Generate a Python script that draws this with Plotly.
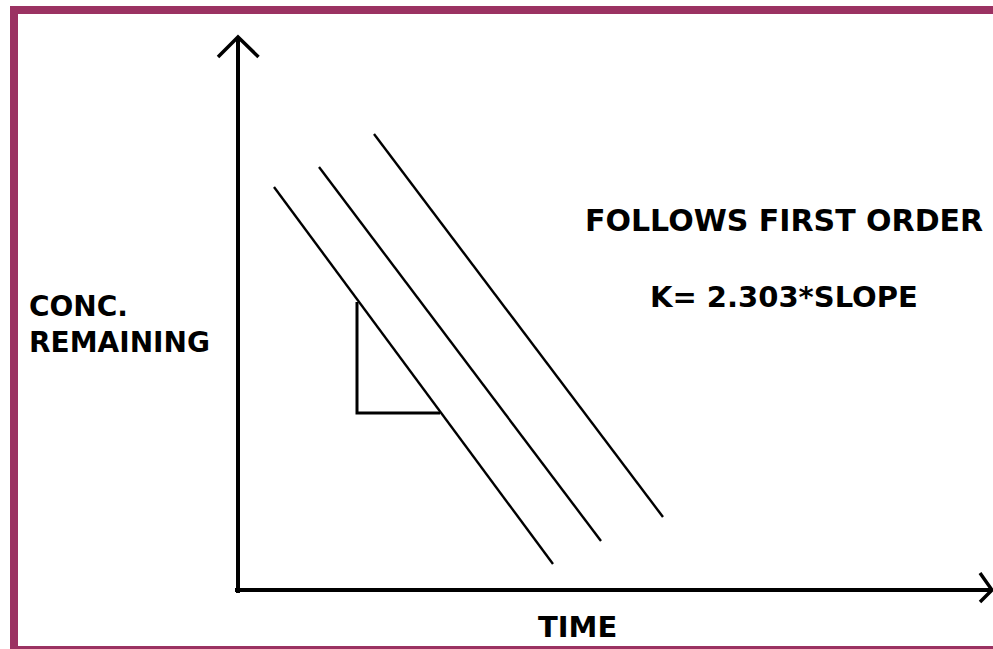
import plotly.graph_objects as go

# ---- data (time units, log-conc units) ----
line1_t = [0.72, 6.30]
line1_c = [8.06, 0.52]
line2_t = [1.62, 7.26]
line2_c = [8.46, 0.98]
line3_t = [2.72, 8.50]
line3_c = [9.12, 1.46]

tri_t = [2.38, 2.38, 4.04]
tri_c = [5.76, 3.54, 3.54]

yaxis_t = [0.0, 0.0]
yaxis_c = [-0.06, 11.06]
xaxis_t = [-0.06, 15.08]
xaxis_c = [0.0, 0.0]

uparrow_t = [-0.40, 0.0, 0.41]
uparrow_c = [10.66, 11.06, 10.66]
rtarrow_t = [14.84, 15.08, 14.84]
rtarrow_c = [0.34, 0.0, -0.24]

title_lines = ["FOLLOWS FIRST ORDER", "K= 2.303*SLOPE"]
y_label = ["CONC.", "REMAINING"]
x_label = "TIME"

W, H = 993, 649
X0, Y0, S = 238, 590, 50.0  # origin pixel and px per unit

fig = go.Figure()

def add_line(t, c, width):
    fig.add_trace(go.Scatter(x=t, y=c, mode="lines",
                             line=dict(color="black", width=width),
                             hoverinfo="skip", showlegend=False))

add_line(line1_t, line1_c, 2.4)
add_line(line2_t, line2_c, 2.4)
add_line(line3_t, line3_c, 2.4)
add_line(tri_t, tri_c, 3)
add_line(yaxis_t, yaxis_c, 4)
add_line(xaxis_t, xaxis_c, 4)
add_line(uparrow_t, uparrow_c, 3.5)
add_line(rtarrow_t, rtarrow_c, 3.5)

border = "#9B3262"
shapes = [
    dict(type="rect", xref="paper", yref="paper", x0=10 / W, x1=1.0,
         y0=1 - 14 / H, y1=1 - 6 / H, fillcolor=border, line=dict(width=0), layer="above"),
    dict(type="rect", xref="paper", yref="paper", x0=10 / W, x1=18 / W,
         y0=0, y1=1 - 6 / H, fillcolor=border, line=dict(width=0), layer="above"),
    dict(type="rect", xref="paper", yref="paper", x0=10 / W, x1=1.0,
         y0=0, y1=3 / H, fillcolor=border, line=dict(width=0), layer="above"),
]

font = "DejaVu Sans"
annotations = [
    dict(text="<b>%s</b>" % title_lines[0], xref="paper", yref="paper",
         x=784 / W, y=1 - 220 / H, xanchor="center", yanchor="middle",
         showarrow=False, font=dict(family=font, size=30, color="black")),
    dict(text="<b>%s</b>" % title_lines[1], xref="paper", yref="paper",
         x=784 / W, y=1 - 297 / H, xanchor="center", yanchor="middle",
         showarrow=False, font=dict(family=font, size=29, color="black")),
    dict(text="<br>".join("<b>%s</b>" % s for s in y_label), xref="paper", yref="paper",
         x=27 / W, y=1 - 324 / H, xanchor="left", yanchor="middle", align="left",
         showarrow=False, font=dict(family=font, size=28, color="black")),
    dict(text="<b>%s</b>" % x_label, xref="paper", yref="paper",
         x=577 / W, y=1 - 627 / H, xanchor="center", yanchor="middle",
         showarrow=False, font=dict(family=font, size=29, color="black")),
]

fig.update_layout(
    width=W, height=H, autosize=False,
    margin=dict(l=0, r=0, t=0, b=0, pad=0),
    paper_bgcolor="white", plot_bgcolor="white",
    xaxis=dict(range=[-X0 / S, (W - X0) / S], visible=False, fixedrange=True),
    yaxis=dict(range=[(Y0 - H) / S, Y0 / S], visible=False, fixedrange=True),
    shapes=shapes, annotations=annotations, showlegend=False,
)

fig.write_html("out.html", config={"displayModeBar": False},
               post_script="document.body.style.margin='0';document.body.style.overflow='hidden';")
